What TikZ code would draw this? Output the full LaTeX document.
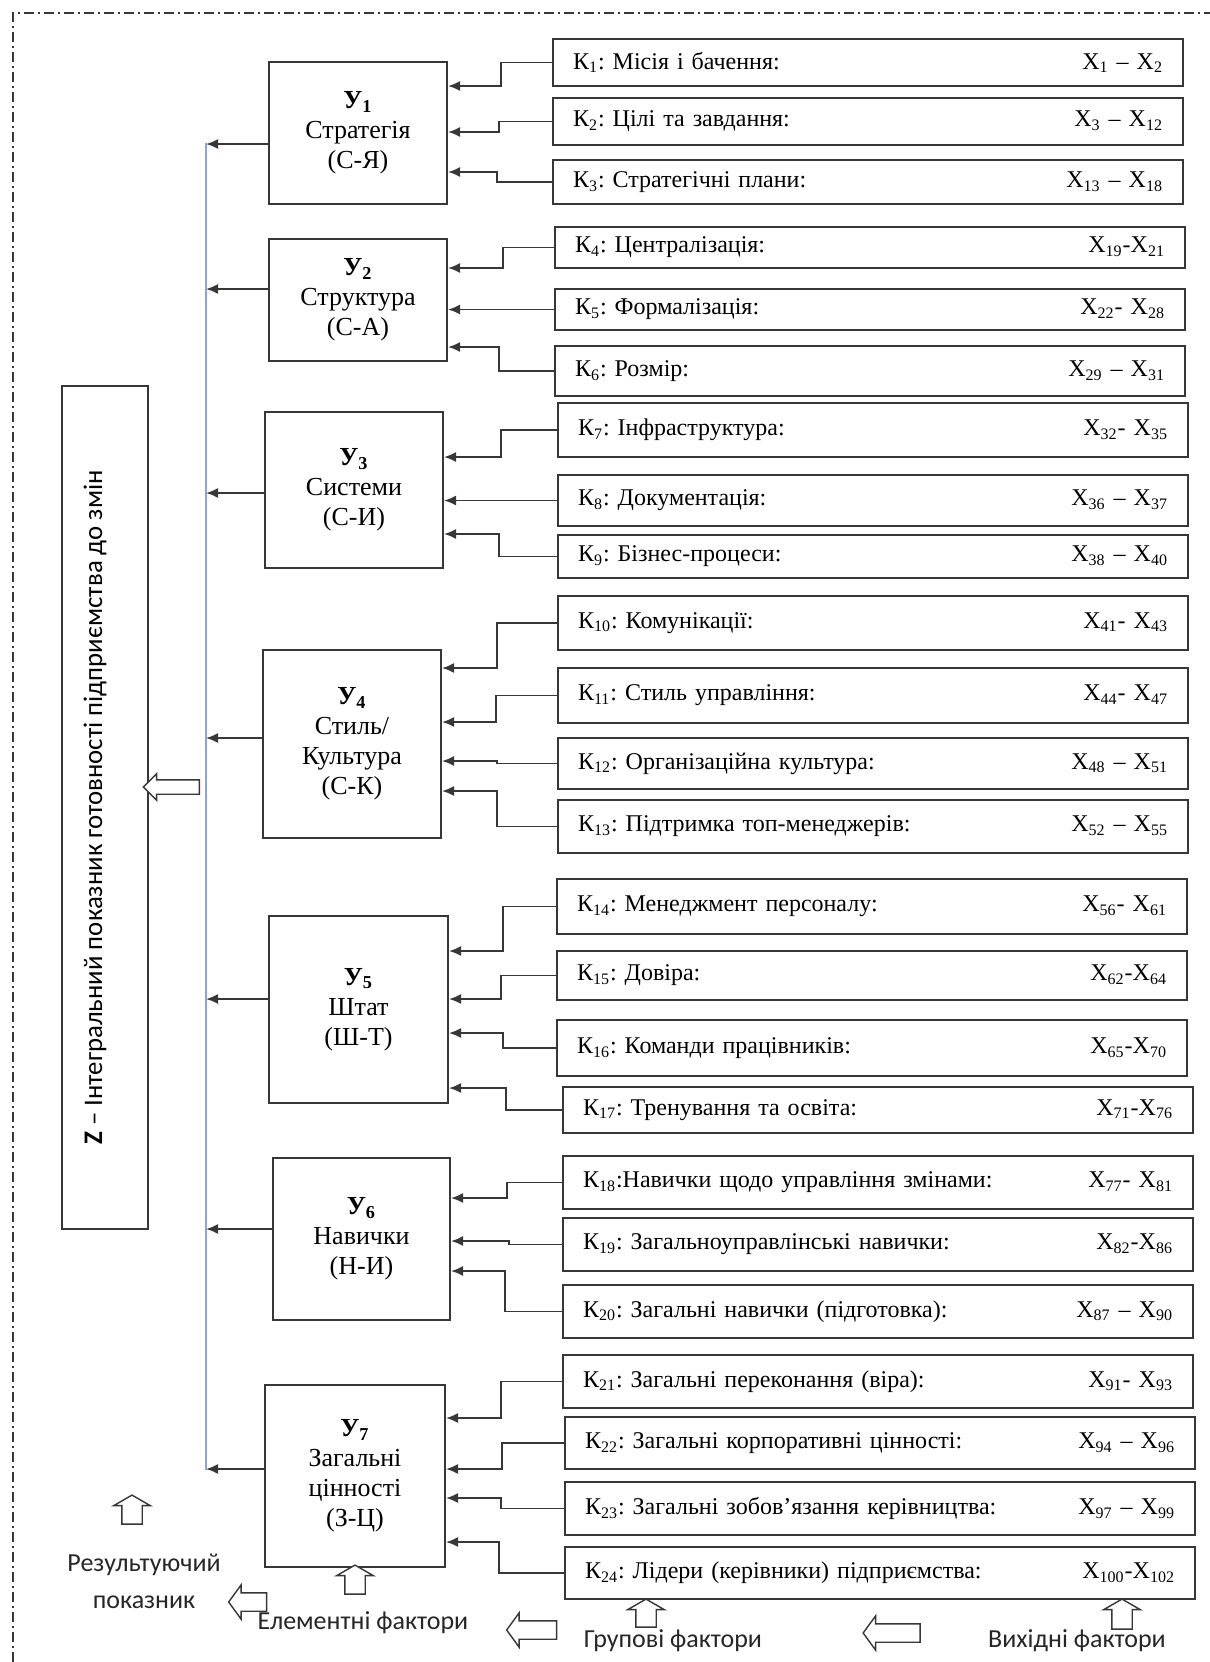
\documentclass[tikz,border=0pt]{standalone}
\usepackage{fontspec}
\setmainfont{Liberation Serif}
\newfontfamily\labelfont{Carlito}
\frenchspacing
\usetikzlibrary{arrows.meta,shapes.arrows,positioning}

\definecolor{linegray}{RGB}{55,55,55}
\definecolor{axisblue}{RGB}{140,165,210}
\newcommand\xsub[1]{X\textsubscript{#1}}

\tikzset{
  ybox/.style={draw=linegray, line width=1pt, align=center, inner sep=0pt,
    font=\fontsize{13}{15}\selectfont},
  kbox/.style={draw=linegray, line width=1pt, inner xsep=10pt, inner ysep=0pt,
    text width=295pt, align=left, font=\fontsize{12}{14}\selectfont},
  conn/.style={draw=linegray, line width=0.9pt, -{Latex[length=6pt,width=5pt]}},
  hollow/.style={single arrow, draw=linegray, line width=0.7pt, fill=white,
    inner sep=4.75pt, single arrow head extend=4pt, single arrow tip angle=120},
  hollowleft/.style={hollow, inner sep=4.25pt, single arrow tip angle=108,
    shape border rotate=180},
  note/.style={font=\labelfont\fontsize{13}{18.5}\selectfont, text=black!85, align=center}
}

\begin{document}
\begin{tikzpicture}[x=0.5pt,y=-0.5pt]
\useasboundingbox (0,0) rectangle (1210,1662);

%Frame
\draw[linegray, line width=0.6pt, dash pattern=on 5pt off 2pt on 1pt off 2pt]
  (13,1662) -- (13,13) -- (1210,13);

%Resulting indicator
\node[draw=linegray, line width=1pt, rotate=90, minimum width=421.5pt, minimum height=43pt,
  inner sep=0pt, text depth=12pt, font=\labelfont\fontsize{13.4}{15}\selectfont] (Z) at (105,807.5)
  {\textbf{Z} – Інтегральний показник готовності підприємства до змін};

\coordinate (btop) at (206,143);
\coordinate (bbot) at (206,1470);
\draw[axisblue, line width=0.8pt] (btop) -- (bbot);
\node[hollowleft, minimum height=28pt, inner sep=3.25pt, single arrow head extend=3pt,
  single arrow tip angle=90] (zarrow) at (175,787) {};

%Element factors
\node[ybox, minimum width=89pt, minimum height=71pt] (Y1) at (358,133)
  {\textbf{У\textsubscript{1}}\\Стратегія\\(С-Я)};
\node[ybox, minimum width=89pt, minimum height=61pt] (Y2) at (358,300)
  {\textbf{У\textsubscript{2}}\\Структура\\(С-А)};
\node[ybox, minimum width=89pt, minimum height=78pt] (Y3) at (354,490)
  {\textbf{У\textsubscript{3}}\\Системи\\(С-И)};
\node[ybox, minimum width=89pt, minimum height=94pt] (Y4) at (352,744)
  {\textbf{У\textsubscript{4}}\\Стиль/\\Культура\\(С-К)};
\node[ybox, minimum width=89.5pt, minimum height=93.5pt] (Y5) at (358.5,1009.5)
  {\textbf{У\textsubscript{5}}\\Штат\\(Ш-Т)};
\node[ybox, minimum width=88.5pt, minimum height=81pt] (Y6) at (361.5,1239)
  {\textbf{У\textsubscript{6}}\\Навички\\(Н-И)};
\node[ybox, minimum width=90pt, minimum height=91pt] (Y7) at (355,1476)
  {\textbf{У\textsubscript{7}}\\Загальні\\цінності\\(З-Ц)};

%Group factors
\foreach \k/\x/\y/\h/\txt/\rng in {
  1/868/62.5/47/{: Місія і бачення:}/{\xsub{1} – \xsub{2}},
  2/868/121.5/47/{: Цілі та завдання:}/{\xsub{3} – \xsub{12}},
  3/868/182/44/{: Стратегічні плани:}/{\xsub{13} – \xsub{18}},
  4/870/247.5/41/{: Централізація:}/{\xsub{19}-\xsub{21}},
  5/870/309.5/41/{: Формалізація:}/{\xsub{22}- \xsub{28}},
  6/870/371/50/{: Розмір:}/{\xsub{29} – \xsub{31}},
  7/873/430/54/{: Інфраструктура:}/{\xsub{32}- \xsub{35}},
  8/873/500.5/51/{: Документація:}/{\xsub{36} – \xsub{37}},
  9/873/556.5/43/{: Бізнес-процеси:}/{\xsub{38} – \xsub{40}},
  10/873/623/54/{: Комунікації:}/{\xsub{41}- \xsub{43}},
  11/873/695.5/55/{: Стиль управління:}/{\xsub{44}- \xsub{47}},
  12/873/763.5/51/{: Організаційна культура:}/{\xsub{48} – \xsub{51}},
  13/873/826.5/53/{: Підтримка топ-менеджерів:}/{\xsub{52} – \xsub{55}},
  14/872/906.5/55/{: Менеджмент персоналу:}/{\xsub{56}- \xsub{61}},
  15/872/975.5/49/{: Довіра:}/{\xsub{62}-\xsub{64}},
  16/872/1048/56/{: Команди працівників:}/{\xsub{65}-\xsub{70}},
  17/878/1110/46/{: Тренування та освіта:}/{\xsub{71}-\xsub{76}},
  18/878/1182.5/53/{:Навички щодо управління змінами:}/{\xsub{77}- \xsub{81}},
  19/878/1244.5/53/{: Загальноуправлінські навички:}/{\xsub{82}-\xsub{86}},
  20/878/1311.5/53/{: Загальні навички (підготовка):}/{\xsub{87} – \xsub{90}},
  21/878/1381.5/53/{: Загальні переконання (віра):}/{\xsub{91}- \xsub{93}},
  22/880/1443/52/{: Загальні корпоративні цінності:}/{\xsub{94} – \xsub{96}},
  23/880/1508.5/53/{: Загальні зобов’язання керівництва:}/{\xsub{97} – \xsub{99}},
  24/880/1573/52/{: Лідери (керівники) підприємства:}/{\xsub{100}-\xsub{102}}}
{
  \node[kbox, minimum height=\h*0.5pt] (K\k) at (\x,\y)
    {К\textsubscript{\k}\txt\hfill\rng};
}

%Links from group factors
\foreach \k/\m/\ex/\ay in {1/1/501/86, 2/1/499/132, 3/1/497/172,
  4/2/503/268, 5/2/500/309.5, 6/2/499/347,
  7/3/501/457, 8/3/500/500.5, 9/3/499/534,
  10/4/497/668, 11/4/496/722, 12/4/497/761, 13/4/497/791,
  14/5/503/951, 15/5/501/999, 16/5/503/1033, 17/5/506/1088,
  18/6/507/1198, 19/6/509/1241, 20/6/505/1271,
  21/7/501/1418, 22/7/502/1469, 23/7/501/1498, 24/7/499/1542}
{
  \draw[conn] (K\k.west) -| (\ex,\ay) -- (Y\m.east |- 0,\ay);
}

%Links to the resulting indicator
\foreach \m/\ay in {1/144, 2/289, 3/493, 4/738, 5/999, 6/1229, 7/1469}
{
  \draw[conn] (Y\m.west |- 0,\ay) -- (btop |- 0,\ay);
}

%Legend
\node[hollow, minimum height=14.5pt, shape border rotate=90] (up1) at (132,1512.5) {};
\node[hollow, minimum height=14.5pt, shape border rotate=90] (up2) at (355,1582.5) {};
\node[hollow, minimum height=14pt, shape border rotate=90] (up3) at (646,1616) {};
\node[hollow, minimum height=15pt, shape border rotate=90] (up4) at (1122,1617) {};
\node[hollowleft, minimum height=19pt] (left1) at (251,1602) {};
\node[hollowleft, minimum height=25pt] (left2) at (535,1630) {};
\node[hollowleft, minimum height=28.5pt] (left3) at (895,1633) {};

\node[note] (result) at (144,1581) {Результуючий\\показник};
\node[note] (elem) at (363,1623) {Елементні фактори};
\node[note] (group) at (673,1641) {Групові фактори};
\node[note] (source) at (1077,1641) {Вихідні фактори};
\end{tikzpicture}
\end{document}
